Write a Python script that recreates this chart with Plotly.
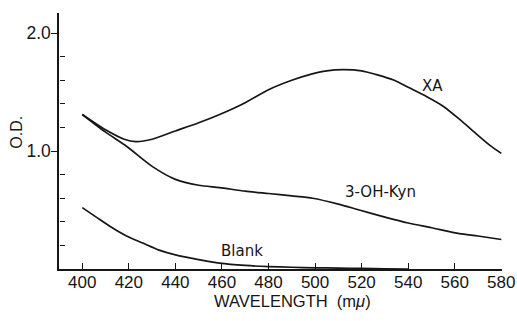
import plotly.graph_objects as go

# Absorption spectra (optical density vs wavelength in m\u03bc)
wl_xa = [400, 410, 418, 423, 430, 440, 450, 459, 470, 480, 490, 498, 505, 512, 520, 526, 534, 540, 548, 555, 562, 569, 575, 580]
od_xa = [1.31, 1.18, 1.10, 1.08, 1.10, 1.17, 1.24, 1.31, 1.41, 1.52, 1.60, 1.65, 1.68, 1.69, 1.68, 1.65, 1.60, 1.54, 1.46, 1.38, 1.27, 1.15, 1.05, 0.98]

wl_kyn = [400, 410, 419, 430, 440, 450, 459, 470, 480, 490, 499, 510, 519, 530, 540, 550, 562, 570, 580]
od_kyn = [1.31, 1.16, 1.04, 0.87, 0.76, 0.71, 0.69, 0.66, 0.64, 0.62, 0.60, 0.55, 0.50, 0.44, 0.39, 0.35, 0.30, 0.28, 0.25]

wl_blank = [400, 406, 412, 419, 426, 433, 440, 450, 459, 470, 480, 490, 500, 510, 520, 530, 540]
od_blank = [0.52, 0.44, 0.36, 0.28, 0.22, 0.16, 0.12, 0.08, 0.05, 0.03, 0.02, 0.015, 0.01, 0.008, 0.005, 0.002, 0.0]

x_ticks = [400, 420, 440, 460, 480, 500, 520, 540, 560, 580]
y_minor_ticks = [0.2, 0.4, 0.6, 0.8, 1.2, 1.4, 1.6, 1.8]
y_major_ticks = [1.0, 2.0]
y_major_text = ["1.0", "2.0"]

curve_labels = [("XA", 550.3, 1.555), ("3-OH-Kyn", 528.3, 0.654), ("Blank", 468.7, 0.155)]

ink = "#161616"
font = "Liberation Sans, Arial, sans-serif"
label_font = "DejaVu Sans, sans-serif"
y_range = [0, 2.17]

fig = go.Figure()
for wl, od in [(wl_xa, od_xa), (wl_kyn, od_kyn), (wl_blank, od_blank)]:
    fig.add_trace(go.Scatter(x=wl, y=od, mode="lines",
                             line=dict(color=ink, width=1.7, shape="spline", smoothing=0.7),
                             hoverinfo="skip", showlegend=False))

# empty trace so the overlay axis carrying the short inner ticks is drawn
fig.add_trace(go.Scatter(x=[], y=[], yaxis="y2", mode="lines", showlegend=False, hoverinfo="skip"))

annotations = [dict(x=x, y=y, text=t, showarrow=False, xanchor="center", yanchor="middle",
                    font=dict(size=15, color=ink, family=label_font))
               for t, x, y in curve_labels]
annotations.append(dict(x=0, xref="paper", y=1.16, yref="y", text="O.D.", textangle=-90,
                        showarrow=False, xanchor="center", yanchor="middle", xshift=-42.5,
                        font=dict(size=16, color=ink, family=font)))
annotations.append(dict(x=490.4, xref="x", y=0, yref="paper", text="WAVELENGTH  (m<i>\u03bc</i>)",
                        showarrow=False, xanchor="center", yanchor="middle", yshift=-32,
                        font=dict(size=16.5, color=ink, family=font)))

fig.update_layout(
    width=517, height=321,
    margin=dict(l=58.7, r=14.5, t=13, b=52, autoexpand=False),
    paper_bgcolor="white", plot_bgcolor="white",
    font=dict(family=font, color=ink, size=16),
    annotations=annotations,
    xaxis=dict(range=[390, 580.3], tickvals=x_ticks, ticks="inside", ticklen=6,
               tickwidth=1.2, tickcolor=ink, showline=True, linecolor=ink, linewidth=1.5,
               showgrid=False, zeroline=False, ticklabelstandoff=-3, automargin=False,
               tickfont=dict(size=17, family=font, color=ink)),
    # labelled outward ticks at 1.0 and 2.0
    yaxis=dict(range=y_range, tickvals=y_major_ticks, ticktext=y_major_text,
               ticks="outside", ticklen=6, tickwidth=1.2, tickcolor=ink, showline=True,
               linecolor=ink, linewidth=1.5, showgrid=False, zeroline=False, automargin=False,
               ticklabelstandoff=-3, tickfont=dict(size=17.5, family=font, color=ink)),
    # short ticks every 0.2 pointing into the plot from the left edge
    yaxis2=dict(range=y_range, overlaying="y", side="right", anchor="free", position=0,
                tickvals=y_minor_ticks, ticks="outside", ticklen=4.5, tickwidth=1.2,
                tickcolor=ink, showticklabels=False, showline=False, showgrid=False,
                zeroline=False, automargin=False),
)

fig.write_html("out.html")
